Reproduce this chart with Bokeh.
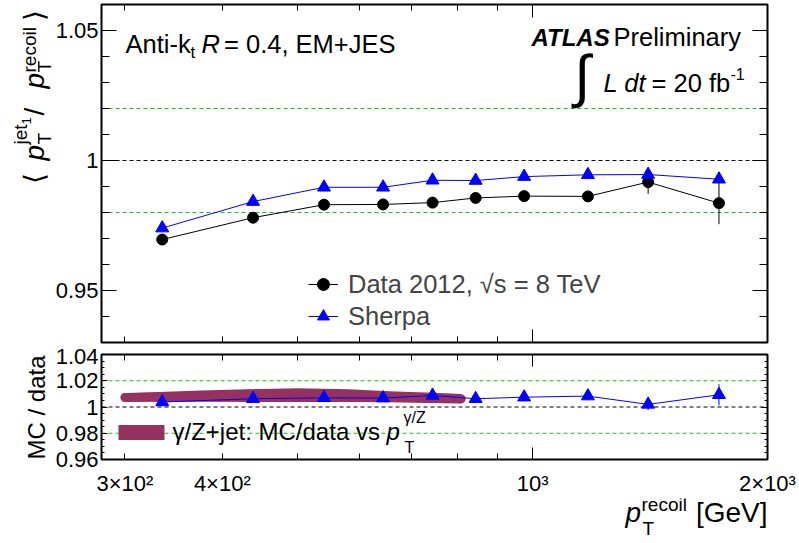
import math
import numpy as np
from bokeh.plotting import figure
from bokeh.layouts import column, row
from bokeh.models import (FixedTicker, LogAxis, LinearAxis, Span, Label, Legend,
                          LegendItem, CustomJSTickFormatter, Range1d, BoxAnnotation)
from bokeh.embed import file_html
from bokeh.resources import INLINE

# ---- data ---------------------------------------------------------------
# recoil-system pT bin centres [GeV]
pt_recoil = [335, 438, 540, 643, 744, 845, 975, 1177, 1406, 1733]
# multijet balance <pT(jet1)/pT(recoil)>
data_resp = [0.9696, 0.9780, 0.9830, 0.9831, 0.9838, 0.9856, 0.9863, 0.9862, 0.9917, 0.9836]
data_err = [0.0005, 0.0006, 0.0006, 0.0007, 0.0008, 0.0010, 0.0012, 0.0016, 0.0045, 0.0081]
sherpa_resp = [0.9740, 0.9842, 0.9897, 0.9897, 0.9924, 0.9923, 0.9938, 0.9945, 0.9946, 0.9928]
# MC / data
ratio = [1.0038, 1.0063, 1.0070, 1.0068, 1.0088, 1.0063, 1.0075, 1.0083, 1.0020, 1.0093]
ratio_err = [0.0006, 0.0007, 0.0007, 0.0008, 0.0009, 0.0011, 0.0013, 0.0017, 0.0044, 0.0081]
# gamma/Z+jet in-situ MC/data band
band_pt = [300, 375, 450, 500, 580, 655, 730, 810]
band_hi = [1.0105, 1.0125, 1.0138, 1.0143, 1.0135, 1.0120, 1.0110, 1.0100]
band_lo = [1.0040, 1.0040, 1.0038, 1.0038, 1.0038, 1.0036, 1.0030, 1.0026]

x_tick_values = [300, 400, 1000, 2000]
x_tick_labels = ["3×10²", "4×10²", "10³", "2×10³"]

FONT = "Liberation Sans"
BAND = "#96325f"
GREEN = "#22bb22"
UP = math.pi / 2
TITLE_W = 52          # width of the strip that carries the y-axis titles
FRAME_L = 101         # page x of the plot frames' left edge


def style_ticks(ax, major_len, minor_len, labels=True):
    ax.axis_line_color = None
    ax.major_tick_in = major_len
    ax.major_tick_out = 0
    ax.minor_tick_in = minor_len
    ax.minor_tick_out = 0
    ax.major_tick_line_color = "black"
    ax.minor_tick_line_color = "black"
    if labels:
        ax.major_label_text_font = FONT
        ax.major_label_text_font_size = "22px"
        ax.major_label_text_color = "black"
    else:
        # tick marks only: no labels painted, no room reserved
        ax.major_label_text_font_size = "0px"
        ax.major_label_text_color = None
        ax.major_label_standoff = 0


y_fmt = CustomJSTickFormatter(code="return String(Number(tick.toFixed(3)));")
x_minor = [300, 400, 500, 600, 700, 800, 900]


def x_ticker():
    return FixedTicker(ticks=[1000, 2000], minor_ticks=x_minor)


def ref_lines(p):
    for v, c in [(1.0, "black"), (1.02, GREEN), (0.98, GREEN)]:
        p.add_layout(Span(location=v, dimension="width", line_color=c,
                          line_dash="4 3", line_width=1, level="underlay"))


def txt(p, text, x, y, size, style="normal", align="left", angle=0.0):
    """Place text with its baseline at screen offset (x, y) from the frame's lower left."""
    shift = 0.35 * size          # anchor sits about mid-glyph; move it off the baseline
    if angle:
        x -= shift
    else:
        y += shift
    p.add_layout(Label(x=x, y=y, x_units="screen", y_units="screen", text=text,
                       text_font=FONT, text_font_size=f"{size}px",
                       text_font_style=style, text_align=align,
                       text_baseline="alphabetic", angle=angle,
                       text_color="black"))


def blank(width, height):
    f = figure(width=width, height=height, x_range=Range1d(0, 1), y_range=Range1d(0, 1),
               output_backend="svg", toolbar_location=None,
               x_axis_location=None, y_axis_location=None,
               min_border=0, min_border_left=0, min_border_right=0,
               min_border_top=0, min_border_bottom=0)
    f.grid.visible = False
    f.outline_line_color = None
    f.background_fill_color = "white"
    f.border_fill_color = "white"
    return f


# ---- upper panel: response -------------------------------------------
p1 = figure(width=799 - TITLE_W, height=348, x_axis_type="log",
            x_range=Range1d(280, 2000), y_range=Range1d(0.93, 1.06),
            output_backend="svg", toolbar_location=None,
            min_border_left=FRAME_L - TITLE_W, min_border_right=32,
            min_border_top=4, min_border_bottom=6)
p1.grid.visible = False
p1.outline_line_color = "black"
p1.outline_line_width = 2
p1.background_fill_color = "white"
p1.border_fill_color = "white"

p1.xaxis.ticker = x_ticker()
style_ticks(p1.xaxis[0], 13, 6, labels=False)
top1 = LogAxis(ticker=x_ticker())
style_ticks(top1, 13, 6, labels=False)
p1.add_layout(top1, "above")

y1_ticker = FixedTicker(ticks=[0.95, 1.0, 1.05],
                        minor_ticks=list(np.round(np.arange(0.93, 1.0601, 0.01), 3)))
p1.yaxis.ticker = y1_ticker
p1.yaxis.formatter = y_fmt
style_ticks(p1.yaxis[0], 15, 8)
p1.yaxis.major_label_standoff = 3
right1 = LinearAxis(ticker=y1_ticker)
style_ticks(right1, 15, 8, labels=False)
p1.add_layout(right1, "right")

ref_lines(p1)

d_lo = [v - e for v, e in zip(data_resp, data_err)]
d_hi = [v + e for v, e in zip(data_resp, data_err)]
p1.segment(pt_recoil, d_lo, pt_recoil, d_hi, line_color="black", line_width=1)
d_line = p1.line(pt_recoil, data_resp, line_color="black", line_width=1)
d_pts = p1.scatter(pt_recoil, data_resp, marker="circle", size=11,
                   fill_color="black", line_color="black")
s_line = p1.line(pt_recoil, sherpa_resp, line_color="blue", line_width=1)
s_pts = p1.scatter(pt_recoil, sherpa_resp, marker="triangle", size=13,
                   fill_color="blue", line_color="blue")

leg1 = Legend(items=[LegendItem(label="Data 2012, √s = 8 TeV", renderers=[d_line, d_pts]),
                     LegendItem(label="Sherpa", renderers=[s_line, s_pts])],
              location=(207, 11), orientation="vertical",
              glyph_width=30, glyph_height=30, label_height=30, spacing=2,
              label_standoff=10, padding=0, margin=0,
              label_text_font=FONT, label_text_font_size="25.5px",
              border_line_alpha=0, background_fill_alpha=0)
p1.add_layout(leg1, "center")

# jet definition
txt(p1, "Anti-k", 24, 290, 25.5)
txt(p1, "t", 89, 284, 17)
txt(p1, "R", 100, 290, 25.5, "italic")
txt(p1, "= 0.4, EM+JES", 122.5, 290, 25.5)
# experiment label and luminosity
txt(p1, "ATLAS", 430, 297, 24, "bold italic")
txt(p1, "Preliminary", 512, 297, 25.5)
txt(p1, "∫", 473, 247, 58)
txt(p1, "L dt", 502, 251, 25.5, "italic")
txt(p1, "= 20 fb", 550, 251, 25.5)
txt(p1, "-1", 629, 263, 16)

# ---- lower panel: MC / data ---------------------------------------------
p2 = figure(width=799 - TITLE_W, height=150, x_axis_type="log",
            x_range=p1.x_range, y_range=Range1d(0.96, 1.04),
            output_backend="svg", toolbar_location=None,
            min_border_left=FRAME_L - TITLE_W, min_border_right=32,
            min_border_top=6, min_border_bottom=39)
p2.grid.visible = False
p2.outline_line_color = "black"
p2.outline_line_width = 2
p2.background_fill_color = "white"
p2.border_fill_color = "white"

p2.xaxis.ticker = x_ticker()
style_ticks(p2.xaxis[0], 12, 6, labels=False)
top2 = LogAxis(ticker=x_ticker())
style_ticks(top2, 12, 6, labels=False)
p2.add_layout(top2, "above")

xlab = LogAxis(ticker=FixedTicker(ticks=x_tick_values, minor_ticks=[]),
               formatter=CustomJSTickFormatter(
                   args=dict(vals=x_tick_values, labs=x_tick_labels),
                   code="const i = vals.indexOf(Math.round(tick)); return i >= 0 ? labs[i] : '';"))
style_ticks(xlab, 0, 0)
xlab.major_tick_line_color = None
xlab.minor_tick_line_color = None
xlab.major_label_standoff = 11
p2.add_layout(xlab, "below")

y2_ticker = FixedTicker(ticks=[0.96, 0.98, 1.0, 1.02, 1.04],
                        minor_ticks=list(np.round(np.arange(0.96, 1.0401, 0.005), 3)))
p2.yaxis.ticker = y2_ticker
p2.yaxis.formatter = y_fmt
style_ticks(p2.yaxis[0], 6, 3)
p2.yaxis.major_label_standoff = 3
right2 = LinearAxis(ticker=y2_ticker)
style_ticks(right2, 6, 3, labels=False)
p2.add_layout(right2, "right")

ref_lines(p2)

band = p2.varea(band_pt, band_lo, band_hi, fill_color=BAND)
band_mid = [(a + b) / 2 for a, b in zip(band_lo, band_hi)]
p2.line(band_pt, band_mid, line_color=BAND, line_width=9, line_cap="round")

r_lo = [v - e for v, e in zip(ratio, ratio_err)]
r_hi = [v + e for v, e in zip(ratio, ratio_err)]
p2.segment(pt_recoil, r_lo, pt_recoil, r_hi, line_color="blue", line_width=1)
p2.line(pt_recoil, ratio, line_color="blue", line_width=1)
p2.scatter(pt_recoil, ratio, marker="triangle", size=13,
           fill_color="blue", line_color="blue")

# legend entry for the in-situ band
p2.add_layout(BoxAnnotation(left=17, right=63, bottom=19.5, top=34.5,
                            left_units="screen", right_units="screen",
                            bottom_units="screen", top_units="screen",
                            fill_color=BAND, fill_alpha=1.0, line_color=None))
txt(p2, "γ/Z+jet: MC/data vs", 71, 20, 24)
txt(p2, "p", 285, 20, 24, "italic")
txt(p2, "γ/Z", 302, 36, 16)
txt(p2, "T", 303, 6, 16)

# ---- strip with the y-axis titles -----------------------------------------
ytitles = blank(TITLE_W, 543)
H = 543
txt(ytitles, "⟨", 44, H - 183, 28, angle=UP)
txt(ytitles, "p", 44, H - 160, 28, "italic", angle=UP)
txt(ytitles, "T", 51, H - 144, 19, angle=UP)
txt(ytitles, "jet", 27, H - 144, 19, angle=UP)
txt(ytitles, "1", 31, H - 124, 13, angle=UP)
txt(ytitles, "/", 44, H - 115, 28, angle=UP)
txt(ytitles, "p", 44, H - 88, 28, "italic", angle=UP)
txt(ytitles, "T", 51, H - 72, 19, angle=UP)
txt(ytitles, "recoil", 36, H - 72, 19, angle=UP)
txt(ytitles, "⟩", 44, H - 20, 28, angle=UP)
txt(ytitles, "MC / data", 44, H - 407, 24, align="center", angle=UP)

# ---- strip with the x-axis title (its frame lines up with the panels) -----
xtitle = blank(799 - TITLE_W, 45)
txt(xtitle, "p", 625 - FRAME_L, 543 - 522, 28, "italic")
txt(xtitle, "recoil", 641 - FRAME_L, 543 - 511, 19)
txt(xtitle, "T", 642 - FRAME_L, 543 - 535, 19)
txt(xtitle, "[GeV]", 767 - FRAME_L, 543 - 522, 28, align="right")

layout = row(ytitles, column(p1, p2, xtitle, spacing=0), spacing=0)
open("out.html", "w").write(file_html(layout, INLINE))
